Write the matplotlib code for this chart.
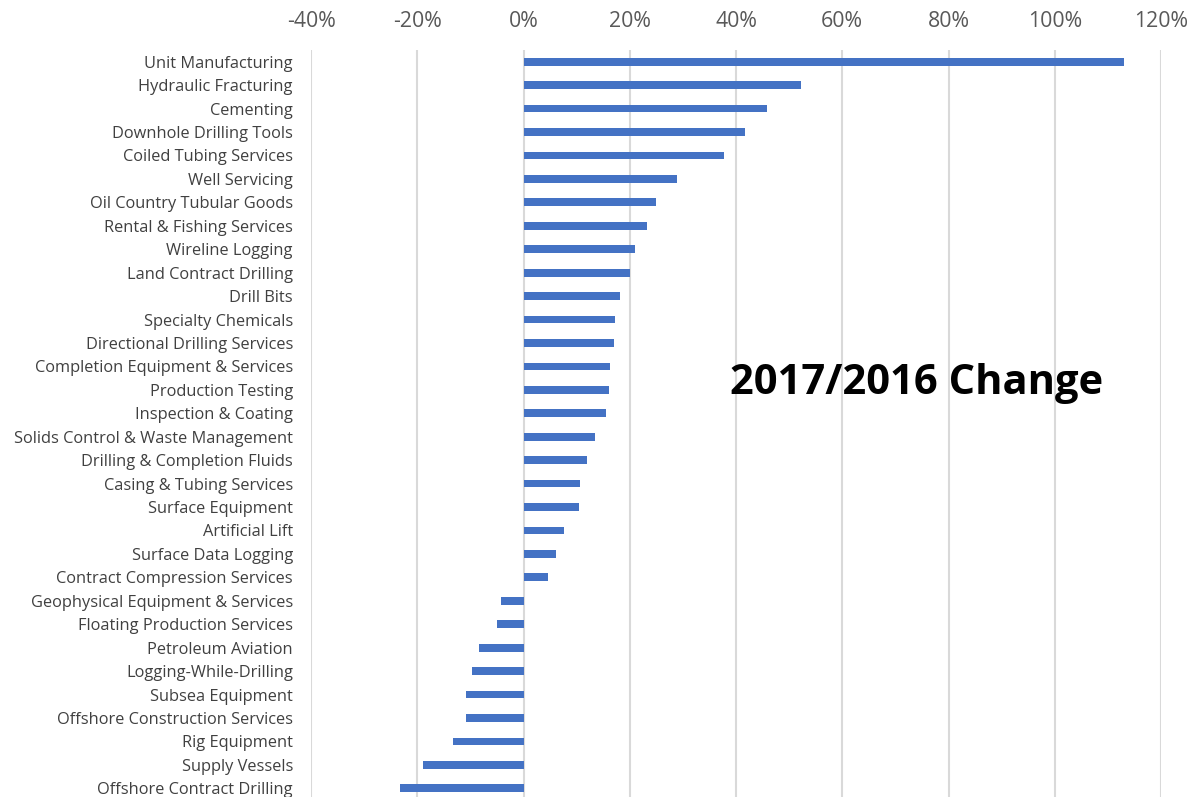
import matplotlib
matplotlib.use("Agg")
import matplotlib.pyplot as plt
from matplotlib.ticker import FuncFormatter

categories = [
    "Unit Manufacturing", "Hydraulic Fracturing", "Cementing",
    "Downhole Drilling Tools", "Coiled Tubing Services", "Well Servicing",
    "Oil Country Tubular Goods", "Rental & Fishing Services", "Wireline Logging",
    "Land Contract Drilling", "Drill Bits", "Specialty Chemicals",
    "Directional Drilling Services", "Completion Equipment & Services",
    "Production Testing", "Inspection & Coating",
    "Solids Control & Waste Management", "Drilling & Completion Fluids",
    "Casing & Tubing Services", "Surface Equipment", "Artificial Lift",
    "Surface Data Logging", "Contract Compression Services",
    "Geophysical Equipment & Services", "Floating Production Services",
    "Petroleum Aviation", "Logging-While-Drilling", "Subsea Equipment",
    "Offshore Construction Services", "Rig Equipment", "Supply Vessels",
    "Offshore Contract Drilling",
]
change = [
    113.1, 52.2, 45.8, 41.6, 37.7, 28.8, 25.0, 23.3, 20.9, 20.1, 18.2, 17.2,
    17.0, 16.3, 16.1, 15.5, 13.4, 12.0, 10.6, 10.5, 7.6, 6.1, 4.7,
    -4.2, -5.0, -8.3, -9.7, -10.8, -10.8, -13.3, -18.9, -23.2,
]
ticks = [-40, -20, 0, 20, 40, 60, 80, 100, 120]

plt.rcParams['font.family'] = ['Open Sans', 'DejaVu Sans']

fig = plt.figure(figsize=(11.9, 7.97), dpi=100)
ax = fig.add_axes([311 / 1190, -3 / 797, 850 / 1190, 750 / 797])

pos = list(range(len(categories)))
ax.barh(pos, change, height=0.33, color="#4472C4", zorder=3)
ax.set_ylim(len(categories) - 0.5, -0.5)
ax.set_xlim(-40, 120)
ax.set_xticks(ticks)
ax.xaxis.set_major_formatter(FuncFormatter(lambda v, p: f"{v:.0f}%"))
ax.xaxis.tick_top()
ax.tick_params(axis="x", length=0, pad=13, labelsize=15.3, labelcolor="#595959")
ax.set_yticks(pos)
ax.set_yticklabels(categories)
ax.tick_params(axis="y", length=0, pad=13, labelsize=11.8, labelcolor="#404040")
ax.grid(axis="x", color="#D9D9D9", linewidth=1.5, zorder=0)
for s in ax.spines.values():
    s.set_visible(False)

ax.text(38.9, 13.75, "2017/2016 Change", fontsize=30, fontweight="bold",
        color="black", va="center", ha="left")

fig.savefig("out.png", dpi=100)
